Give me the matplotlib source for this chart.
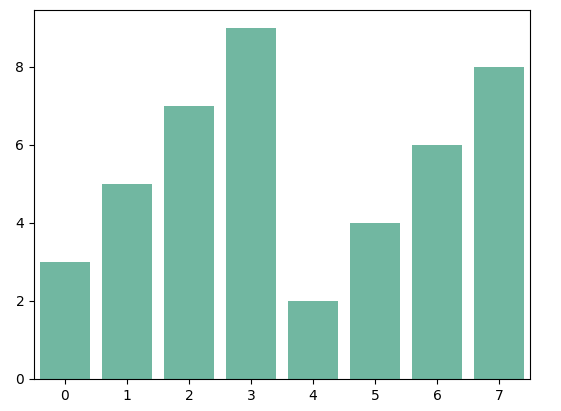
import numpy as np
import matplotlib
matplotlib.use("Agg")
import matplotlib.pyplot as plt

categories = [0, 1, 2, 3, 4, 5, 6, 7]
values = [3, 5, 7, 9, 2, 4, 6, 8]

fig = plt.figure(figsize=(5.61, 4.11), dpi=100)
ax = fig.add_axes([0.0606, 0.0779, 0.8841, 0.8978])

# seaborn-style desaturated Set2 green
ax.bar(categories, values, width=0.8, color='#71b7a1')
ax.set_xlim(-0.5, len(categories) - 0.5)
ax.set_xticks(categories)
ax.set_xticklabels([str(c) for c in categories])
ax.set_yticks(np.arange(0, 10, 2))

fig.savefig("out.png", dpi=100)
